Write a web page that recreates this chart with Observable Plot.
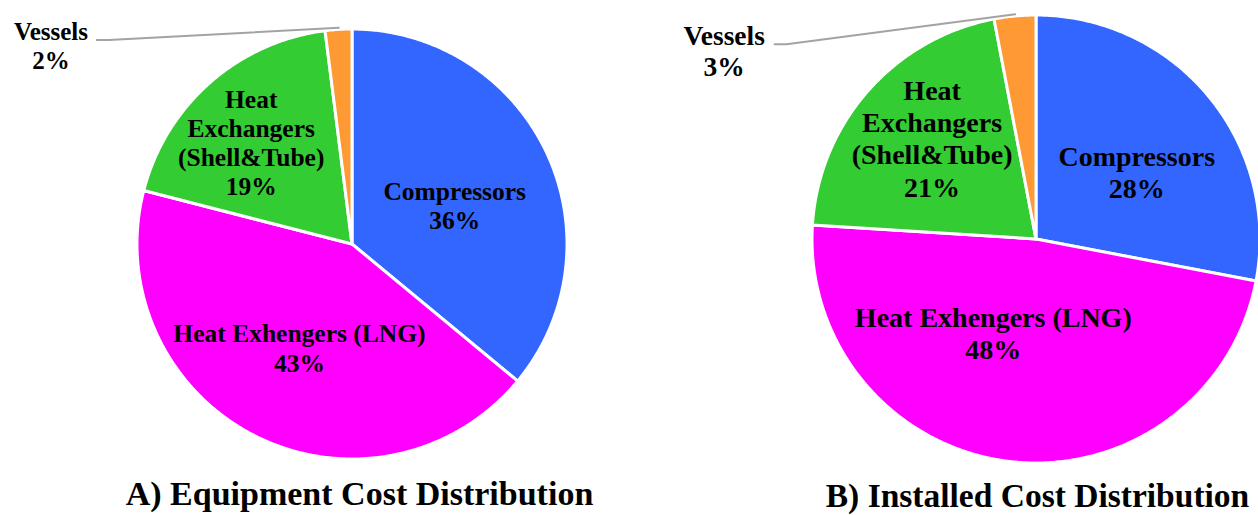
<!DOCTYPE html>
<html>
<head>
<meta charset="utf-8">
<script src="https://cdn.jsdelivr.net/npm/d3@7"></script>
<script src="https://cdn.jsdelivr.net/npm/@observablehq/plot@0.6"></script>
<style>
  html, body { margin: 0; padding: 0; background: #fff; }
  #chart svg { display: block; }
</style>
</head>
<body>
<div id="chart"></div>
<script>
// Cost categories, in clockwise order starting at 12 o'clock
const categories = ["Compressors", "Heat Exhengers (LNG)", "Heat Exchangers (Shell&Tube)", "Vessels"];
const labelNames = ["Compressors", "Heat Exhengers (LNG)", "Heat\nExchangers\n(Shell&Tube)", "Vessels"];
const colors = ["#3366ff", "#ff00ff", "#33cc33", "#ff9933"];

// Percent share of each category
const equipmentCost = [36, 43, 19, 2];
const installedCost = [28, 48, 21, 3];

const titles = ["A) Equipment Cost Distribution", "B) Installed Cost Distribution"];

// Panel layout: pie centre and radius (in plot units), label and title font sizes
const panels = [
  {values: equipmentCost, title: titles[0], cx: 352, cy: 244, r: 215, font: 25.5, titleX: 359, titleY: 494, titleSize: 34},
  {values: installedCost, title: titles[1], cx: 1036, cy: 239, r: 224, font: 28, titleX: 1037, titleY: 496, titleSize: 33.5}
];

// Label placement in polar form: angle (degrees clockwise from top) and radius as a fraction of r
const labelPolar = [
  [[68.8, 0.51], [207.2, 0.54], [315.3, 0.67], [303.4, 1.68]],
  [[56.0, 0.54], [204.8, 0.46], [314.2, 0.65], [301.2, 1.63]]
];

const rad = d => d * Math.PI / 180;
const polar = (p, deg, f) => [p.cx + p.r * f * Math.sin(rad(deg)), p.cy - p.r * f * Math.cos(rad(deg))];

const wedges = [];   // arc points for each slice (area topline), baseline at the centre
const labels = [];
const leaders = [];
const captions = [];

panels.forEach((p, pi) => {
  const arcs = d3.pie().sort(null).value(d => d)(p.values);
  arcs.forEach((a, i) => {
    const a0 = a.startAngle * 180 / Math.PI, a1 = a.endAngle * 180 / Math.PI;
    const n = Math.max(2, Math.ceil((a1 - a0) / 0.5));
    for (let k = 0; k <= n; ++k) {
      const deg = a0 + (a1 - a0) * k / n;
      const [x, y] = polar(p, deg, 1);
      wedges.push({key: `${pi}-${i}`, category: categories[i], x1: p.cx, y1: p.cy, x2: x, y2: y});
    }
    const [ang, frac] = labelPolar[pi][i];
    const [lx, ly] = polar(p, ang, frac);
    labels.push({x: lx, y: ly, text: `${labelNames[i]}\n${p.values[i]}%`, size: p.font * (i === 3 ? 0.98 : 1)});
    if (i === 3) {
      // leader line from the outside label to the slice rim, with a short horizontal stub
      const mid = (a0 + a1) / 2;
      const [rx, ry] = polar(p, mid, 1.01);
      const sx = lx + 1.8 * p.font, sy = ly - 0.22 * p.font;
      leaders.push({key: pi, x: sx, y: sy}, {key: pi, x: sx + 12, y: sy}, {key: pi, x: rx, y: ry});
    }
  });
  captions.push({x: p.titleX, y: p.titleY, text: p.title, size: p.titleSize});
});

const W = 1258, H = 515;
const font = "'Liberation Serif', 'Times New Roman', Times, serif";

const chart = Plot.plot({
  width: W,
  height: H,
  margin: 0,
  x: {domain: [0, W], range: [0, W], axis: null},
  y: {domain: [0, H], range: [0, H], axis: null},
  color: {domain: categories, range: colors},
  style: {fontFamily: font, background: "#fff"},
  marks: [
    Plot.area(wedges, {x1: "x1", y1: "y1", x2: "x2", y2: "y2", z: "key", fill: "category",
      stroke: "white", strokeWidth: 3, strokeLinejoin: "round", curve: "linear"}),
    Plot.line(leaders, {x: "x", y: "y", z: "key", stroke: "#a3a3a3", strokeWidth: 2}),
    ...labels.map(l => Plot.text([l], {x: "x", y: "y", text: "text", fontSize: l.size,
      fontWeight: "bold", fill: "#000", lineHeight: 1.15, textAnchor: "middle"})),
    ...captions.map(c => Plot.text([c], {x: "x", y: "y", text: "text", fontSize: c.size, fontWeight: "bold",
      fill: "#000", textAnchor: "middle"}))
  ]
});

document.getElementById("chart").append(chart);
</script>
</body>
</html>
